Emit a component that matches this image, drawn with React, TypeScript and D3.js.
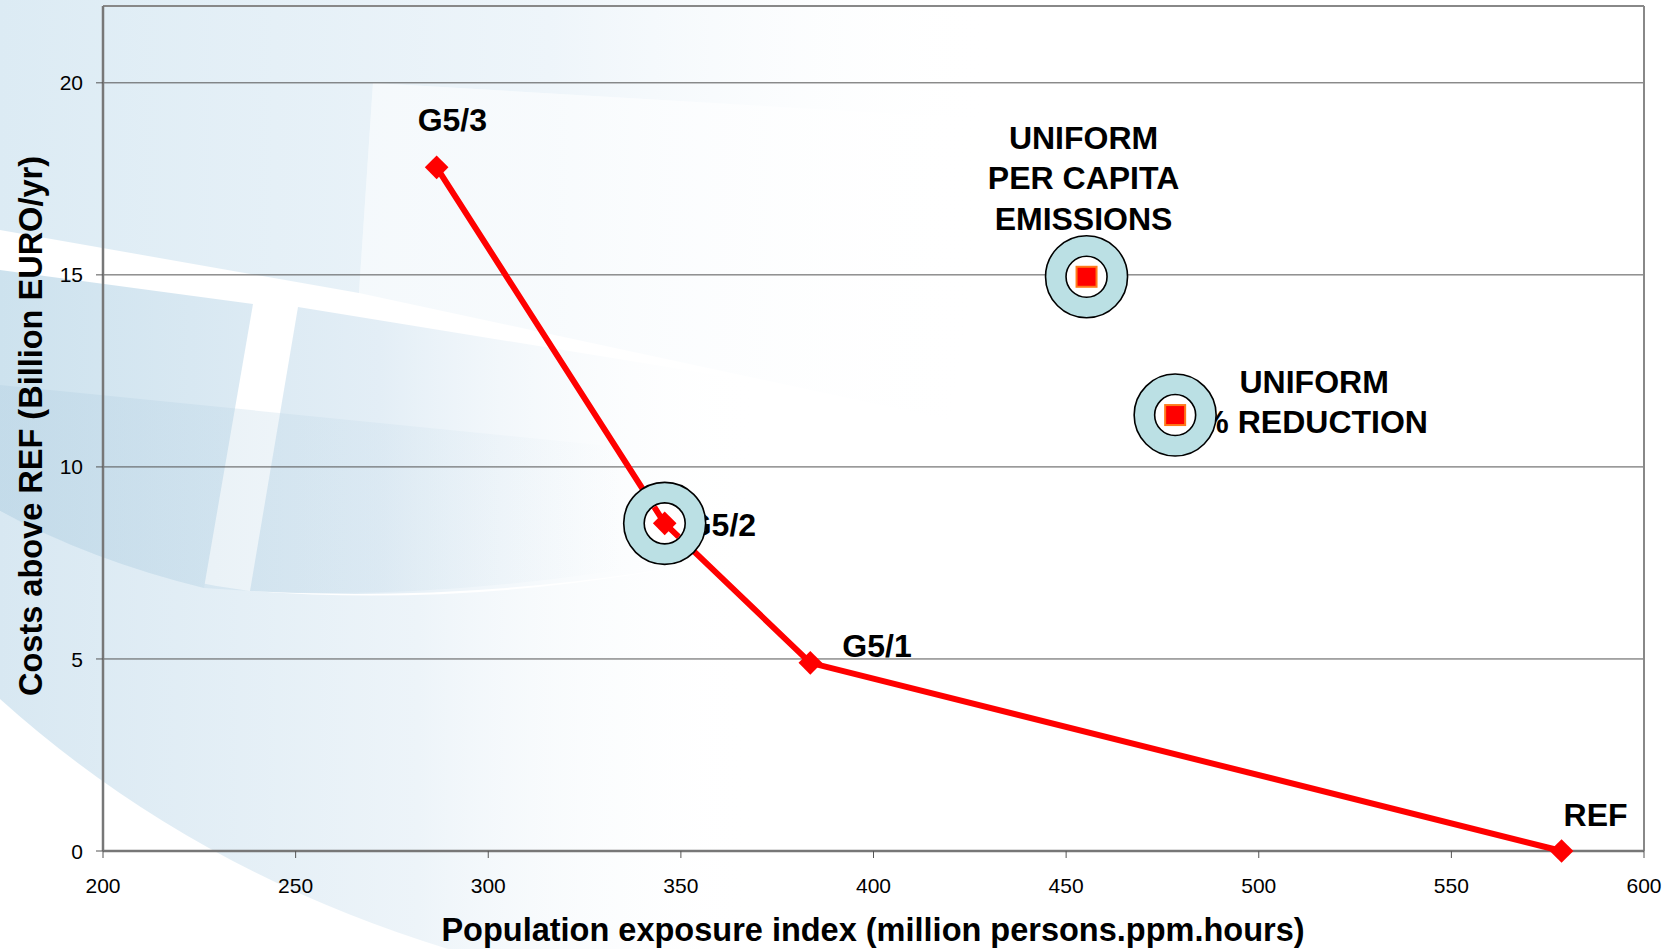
import * as d3 from 'd3'
import React from 'react'

// frontier (G5 scenarios + reference)
const frontierNames = ['G5/3', 'G5/2', 'G5/1', 'REF']
const frontierX = [286.6, 345.8, 383.6, 578.6]
const frontierY = [17.8, 8.53, 4.9, 0]

// alternative allocation rules
const altNames = ['UNIFORM PER CAPITA EMISSIONS', 'UNIFORM % REDUCTION']
const altX = [455.3, 478.3]
const altY = [14.95, 11.35]

// which points get the ring highlight
const ringed = [
    { x: 345.8, y: 8.53 },
    { x: 455.3, y: 14.95 },
    { x: 478.3, y: 11.35 },
]

const xTicks = [200, 250, 300, 350, 400, 450, 500, 550, 600]
const yTicks = [0, 5, 10, 15, 20]

const W = 1673
const H = 949
const margin = { top: 6, right: 29, bottom: 98, left: 103 }
const font = '"Liberation Sans", Arial, sans-serif'

const App = (): JSX.Element => {
    const x = d3
        .scaleLinear()
        .domain([200, 600])
        .range([margin.left, W - margin.right])
    const y = d3
        .scaleLinear()
        .domain([0, 22])
        .range([H - margin.bottom, margin.top])

    const pts = frontierX.map((v, i) => ({ x: v, y: frontierY[i], name: frontierNames[i] }))
    const line = d3
        .line<any>()
        .x((d) => x(d.x))
        .y((d) => y(d.y))
    const diamond = d3.symbol().type(d3.symbolSquare).size(280)()

    // label placement, relative to point (px)
    const labelOffsets = [
        { dx: -19, dy: -36, anchor: 'start' },
        { dx: 22, dy: 13, anchor: 'start' },
        { dx: 32, dy: -6, anchor: 'start' },
        { dx: 2, dy: -25, anchor: 'start' },
    ]

    const x0 = x(200)
    const x1 = x(600)
    const y0 = y(0)
    const yTop = y(22)

    return (
        <svg
            width={W}
            height={H}
            style={{ position: 'absolute', left: 0, top: 0, fontFamily: font }}
        >
            <defs>
                <linearGradient id="bg" gradientUnits="userSpaceOnUse" x1="0" y1="0" x2="760" y2="0">
                    <stop offset="0" stopColor="#cde2ee" />
                    <stop offset="0.5" stopColor="#e3eef6" />
                    <stop offset="1" stopColor="#ffffff" stopOpacity="0" />
                </linearGradient>
                <linearGradient id="bg3" gradientUnits="userSpaceOnUse" x1="0" y1="0" x2="1000" y2="0">
                    <stop offset="0" stopColor="#dcebf4" />
                    <stop offset="0.55" stopColor="#eef5fa" />
                    <stop offset="1" stopColor="#ffffff" stopOpacity="0" />
                </linearGradient>
                <linearGradient id="bg4" gradientUnits="userSpaceOnUse" x1="0" y1="0" x2="760" y2="0">
                    <stop offset="0" stopColor="#d8e8f2" />
                    <stop offset="0.55" stopColor="#edf4f9" />
                    <stop offset="1" stopColor="#ffffff" stopOpacity="0" />
                </linearGradient>
                <linearGradient id="bg5" gradientUnits="userSpaceOnUse" x1="0" y1="0" x2="620" y2="0">
                    <stop offset="0" stopColor="#b8d3e4" stopOpacity="0.45" />
                    <stop offset="1" stopColor="#b8d3e4" stopOpacity="0" />
                </linearGradient>
            </defs>
            <rect width={W} height={H} fill="#fff" />
            {/* background template decoration */}
            <path d="M0,0 L1000,0 L1000,120 L373,83 L359,293 L0,230 Z" fill="url(#bg3)" />
            <path d="M373,83 L1000,120 L950,420 L359,293 Z" fill="url(#bg3)" opacity={0.45} />
            <path
                d="M0,511 Q120,575 250,591 Q500,610 760,550 L760,949 L448,949 Q190,870 0,699 Z"
                fill="url(#bg4)"
            />
            <path d="M0,270 L253,304 L204,588 Q90,560 0,511 Z" fill="url(#bg)" />
            <path d="M298,307 L760,382 L760,552 Q500,605 250,591 Z" fill="url(#bg)" />
            <path
                d="M0,385 L620,447 L620,570 Q420,600 250,591 L204,588 Q90,560 0,511 Z"
                fill="url(#bg5)"
            />

            {/* grid */}
            {yTicks
                .filter((t) => t > 0)
                .map((t) => (
                    <line key={t} x1={x0} x2={x1} y1={y(t)} y2={y(t)} stroke="#555" strokeWidth={1} />
                ))}
            {/* plot frame */}
            <line x1={x0} x2={x1} y1={yTop} y2={yTop} stroke="#888" strokeWidth={2} />
            <line x1={x1} x2={x1} y1={yTop} y2={y0} stroke="#888" strokeWidth={2} />
            <line x1={x0} x2={x0} y1={yTop} y2={y0} stroke="#777" strokeWidth={2.5} />
            <line x1={x0} x2={x1} y1={y0} y2={y0} stroke="#777" strokeWidth={2.5} />

            {/* y ticks */}
            {yTicks.map((t) => (
                <g key={t}>
                    <line x1={x0 - 7} x2={x0} y1={y(t)} y2={y(t)} stroke="#555" strokeWidth={1} />
                    <text x={x0 - 20} y={y(t)} dy="0.36em" textAnchor="end" fontSize={21} fill="#000">
                        {t}
                    </text>
                </g>
            ))}
            {/* x ticks */}
            {xTicks.map((t) => (
                <g key={t}>
                    <line x1={x(t)} x2={x(t)} y1={y0} y2={y0 + 7} stroke="#555" strokeWidth={1} />
                    <text x={x(t)} y={893} textAnchor="middle" fontSize={21} fill="#000">
                        {t}
                    </text>
                </g>
            ))}

            {/* axis titles */}
            <text
                x={873}
                y={941}
                textAnchor="middle"
                fontSize={32.5}
                fontWeight="bold"
                fill="#000"
            >
                Population exposure index (million persons.ppm.hours)
            </text>
            <text
                transform={`translate(42,${426}) rotate(-90)`}
                textAnchor="middle"
                fontSize={32.5}
                fontWeight="bold"
                fill="#000"
            >
                Costs above REF (Billion EURO/yr)
            </text>

            {/* labels */}
            {pts.map((p, i) => (
                <text
                    key={p.name}
                    x={x(p.x) + labelOffsets[i].dx}
                    y={y(p.y) + labelOffsets[i].dy}
                    textAnchor={labelOffsets[i].anchor}
                    fontSize={32}
                    fontWeight="bold"
                    fill="#000"
                >
                    {p.name}
                </text>
            ))}
            <text x={x(altX[0]) - 3} y={y(altY[0]) - 128} textAnchor="middle" fontSize={32} fontWeight="bold">
                {altNames[0].split(' ').slice(0, 1).join(' ')}
                <tspan x={x(altX[0]) - 3} dy={40.5}>
                    {altNames[0].split(' ').slice(1, 3).join(' ')}
                </tspan>
                <tspan x={x(altX[0]) - 3} dy={40.5}>
                    {altNames[0].split(' ').slice(3).join(' ')}
                </tspan>
            </text>
            <text x={x(altX[1]) + 139} y={y(altY[1]) - 22} textAnchor="middle" fontSize={32} fontWeight="bold">
                {altNames[1].split(' ')[0]}
                <tspan x={x(altX[1]) + 139} dy={40}>
                    {altNames[1].split(' ').slice(1).join(' ')}
                </tspan>
            </text>

            {/* frontier line */}
            <path d={line(pts) || ''} fill="none" stroke="#ff0000" strokeWidth={6} />

            {/* rings */}
            {ringed.map((r, i) => (
                <g key={i} transform={`translate(${x(r.x)},${y(r.y)})`}>
                    <circle r={41} fill="#bbe0e4" stroke="#000" strokeWidth={1.6} />
                    <circle r={20.5} fill="#fff" stroke="#000" strokeWidth={1.6} />
                </g>
            ))}
            {/* redraw line inside the G5/2 ring */}
            <clipPath id="ringclip">
                <circle cx={x(ringed[0].x)} cy={y(ringed[0].y)} r={19.5} />
            </clipPath>
            <path
                d={line(pts.slice(0, 3)) || ''}
                fill="none"
                stroke="#ff0000"
                strokeWidth={6}
                clipPath="url(#ringclip)"
            />

            {/* diamond markers */}
            {pts.map((p) => (
                <path
                    key={p.name}
                    d={diamond || ''}
                    transform={`translate(${x(p.x)},${y(p.y)}) rotate(45)`}
                    fill="#ff0000"
                />
            ))}
            {/* square markers */}
            {altX.map((v, i) => (
                <rect
                    key={i}
                    x={x(v) - 10}
                    y={y(altY[i]) - 10}
                    width={20}
                    height={20}
                    fill="#ff0000"
                    stroke="#ff7a1a"
                    strokeWidth={2}
                />
            ))}
        </svg>
    )
}

export default App
